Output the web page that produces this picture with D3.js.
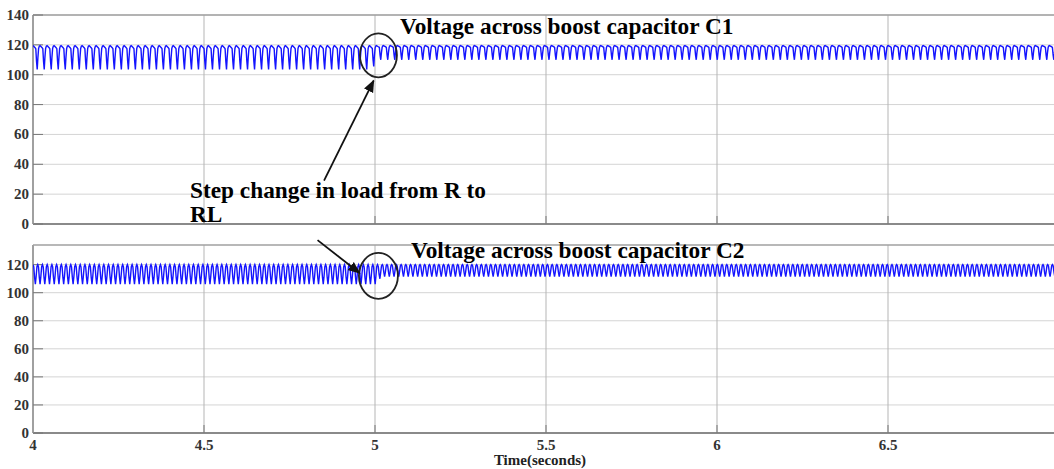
<!DOCTYPE html>
<html>
<head>
<meta charset="utf-8">
<script src="https://cdn.jsdelivr.net/npm/d3@7"></script>
<style>
  body { margin: 0; background: #fff; }
  text { font-family: "Liberation Serif", "Times New Roman", serif; font-weight: bold; }
</style>
</head>
<body>
<script>
// time axis
const timeDomain = [4, 7];
const timeTicks = [4, 4.5, 5, 5.5, 6, 6.5];
const c1Ticks = [0, 20, 40, 60, 80, 100, 120, 140];
const c2Ticks = [0, 20, 40, 60, 80, 100, 120];

// C1 ripple envelope
const c1EnvTime = [4, 4.99, 5.01, 7];
const c1Peak = [119.5, 119.5, 119.5, 119.5];
const c1Trough = [103.5, 103.5, 110, 110];
const c1Period = 0.0205;
// one ripple cycle, 0 = trough, 1 = peak
const c1Shape = [1.0, 0.97, 0.94, 0.91, 0.87, 0.35, 0.0, 0.5, 0.88, 0.98];

// C2 ripple envelope
const c2EnvTime = [4, 5.0, 5.02, 7];
const c2Peak = [120, 120, 120, 120];
const c2Trough = [106, 106, 111.5, 111.5];
const c2Period = 0.0138;
const c2Shape = [1.0, 0.88, 0.35, 0.0, 0.4, 0.9];

const W = 1054, H = 469;

const svg = d3.select("body")
  .append("svg")
  .attr("width", W)
  .attr("height", H);

svg.append("defs").append("marker")
  .attr("id", "arrow")
  .attr("viewBox", "0 0 10 10")
  .attr("refX", 9)
  .attr("refY", 5)
  .attr("markerWidth", 7)
  .attr("markerHeight", 7)
  .attr("orient", "auto")
  .append("path")
  .attr("d", "M0,1 L10,5 L0,9 Z")
  .attr("fill", "#111");

const x = d3.scaleLinear().domain(timeDomain).range([33, 1059]);

function buildWave(envTime, peak, trough, period, shape) {
  const pk = d3.scaleLinear().domain(envTime).range(peak);
  const tr = d3.scaleLinear().domain(envTime).range(trough);
  const pts = [];
  const step = period / shape.length;
  let i = 0;
  for (let t = timeDomain[0]; t <= timeDomain[1]; t += step, i++) {
    const s = shape[i % shape.length];
    pts.push({ t: t, v: tr(t) + s * (pk(t) - tr(t)) });
  }
  return pts;
}

function panel(id, top, bottom, yMax, ticks, data) {
  const y = d3.scaleLinear().domain([0, yMax]).range([bottom, top]);
  const g = svg.append("g");

  g.append("clipPath").attr("id", id)
    .append("rect")
    .attr("x", 33).attr("y", top)
    .attr("width", W - 33).attr("height", bottom - top);

  // horizontal grid
  g.selectAll(".hg")
    .data(ticks)
    .enter()
    .append("line")
    .attr("x1", 33).attr("x2", W)
    .attr("y1", d => y(d)).attr("y2", d => y(d))
    .attr("stroke", "#d4d4d4")
    .attr("stroke-width", 1);

  // vertical grid
  g.selectAll(".vg")
    .data(timeTicks.slice(1))
    .enter()
    .append("line")
    .attr("x1", d => x(d)).attr("x2", d => x(d))
    .attr("y1", top).attr("y2", bottom)
    .attr("stroke", "#b5b5b5")
    .attr("stroke-width", 1);

  // frame
  g.append("line")
    .attr("x1", 33).attr("x2", W).attr("y1", top).attr("y2", top)
    .attr("stroke", "#a0a0a0").attr("stroke-width", 1.5);
  g.append("line")
    .attr("x1", 33).attr("x2", W).attr("y1", bottom).attr("y2", bottom)
    .attr("stroke", "#8a8a8a").attr("stroke-width", 2);
  g.append("line")
    .attr("x1", 33).attr("x2", 33).attr("y1", top).attr("y2", bottom)
    .attr("stroke", "#a0a0a0").attr("stroke-width", 2);

  // y ticks
  g.selectAll(".yt")
    .data(ticks)
    .enter()
    .append("line")
    .attr("x1", 33).attr("x2", 43)
    .attr("y1", d => y(d)).attr("y2", d => y(d))
    .attr("stroke", "#777");

  g.selectAll(".yl")
    .data(ticks)
    .enter()
    .append("text")
    .attr("x", 29)
    .attr("y", d => y(d) + 5)
    .attr("text-anchor", "end")
    .attr("font-size", 15)
    .attr("fill", "#333")
    .text(d => d);

  // x ticks
  g.selectAll(".xt")
    .data(timeTicks.slice(1))
    .enter()
    .append("line")
    .attr("x1", d => x(d)).attr("x2", d => x(d))
    .attr("y1", bottom).attr("y2", bottom - 8)
    .attr("stroke", "#777");

  const line = d3.line()
    .x(d => x(d.t))
    .y(d => y(d.v));

  g.append("path")
    .datum(data)
    .attr("clip-path", `url(#${id})`)
    .attr("d", line)
    .attr("fill", "none")
    .attr("stroke", "#1414ff")
    .attr("stroke-width", 1.4);

  return y;
}

const y1 = panel("clip1", 15, 224, 140, c1Ticks,
  buildWave(c1EnvTime, c1Peak, c1Trough, c1Period, c1Shape));
const y2 = panel("clip2", 245, 433, 134, c2Ticks,
  buildWave(c2EnvTime, c2Peak, c2Trough, c2Period, c2Shape));

// x tick labels and title
svg.selectAll(".xl")
  .data(timeTicks)
  .enter()
  .append("text")
  .attr("x", d => x(d))
  .attr("y", 450)
  .attr("text-anchor", "middle")
  .attr("font-size", 15)
  .attr("fill", "#333")
  .text(d => d);

svg.append("text")
  .attr("x", 540)
  .attr("y", 465)
  .attr("text-anchor", "middle")
  .attr("font-size", 15)
  .attr("fill", "#222")
  .text("Time(seconds)");

// annotations
svg.append("ellipse")
  .attr("cx", x(5.01)).attr("cy", y1(113))
  .attr("rx", 18.5).attr("ry", 22)
  .attr("fill", "none").attr("stroke", "#222").attr("stroke-width", 1.8);

svg.append("ellipse")
  .attr("cx", x(5.01)).attr("cy", y2(112))
  .attr("rx", 19.5).attr("ry", 23)
  .attr("fill", "none").attr("stroke", "#222").attr("stroke-width", 1.8);

svg.append("line")
  .attr("x1", x(4.851)).attr("y1", y1(29))
  .attr("x2", x(4.996)).attr("y2", y1(96))
  .attr("stroke", "#111").attr("stroke-width", 1.8)
  .attr("marker-end", "url(#arrow)");

svg.append("line")
  .attr("x1", x(4.832)).attr("y1", y2(137.5))
  .attr("x2", x(4.955)).attr("y2", y2(114))
  .attr("stroke", "#111").attr("stroke-width", 1.8)
  .attr("marker-end", "url(#arrow)");

svg.append("text")
  .attr("x", 400).attr("y", 34)
  .attr("font-size", 23.3)
  .text("Voltage across boost capacitor C1");

svg.append("text")
  .attr("x", 411).attr("y", 258)
  .attr("font-size", 23.3)
  .text("Voltage across boost capacitor C2");

svg.append("text")
  .attr("x", 190).attr("y", 198)
  .attr("font-size", 23.3)
  .text("Step change in load from R to");

svg.append("text")
  .attr("x", 190).attr("y", 222)
  .attr("font-size", 23.3)
  .text("RL");
</script>
</body>
</html>
